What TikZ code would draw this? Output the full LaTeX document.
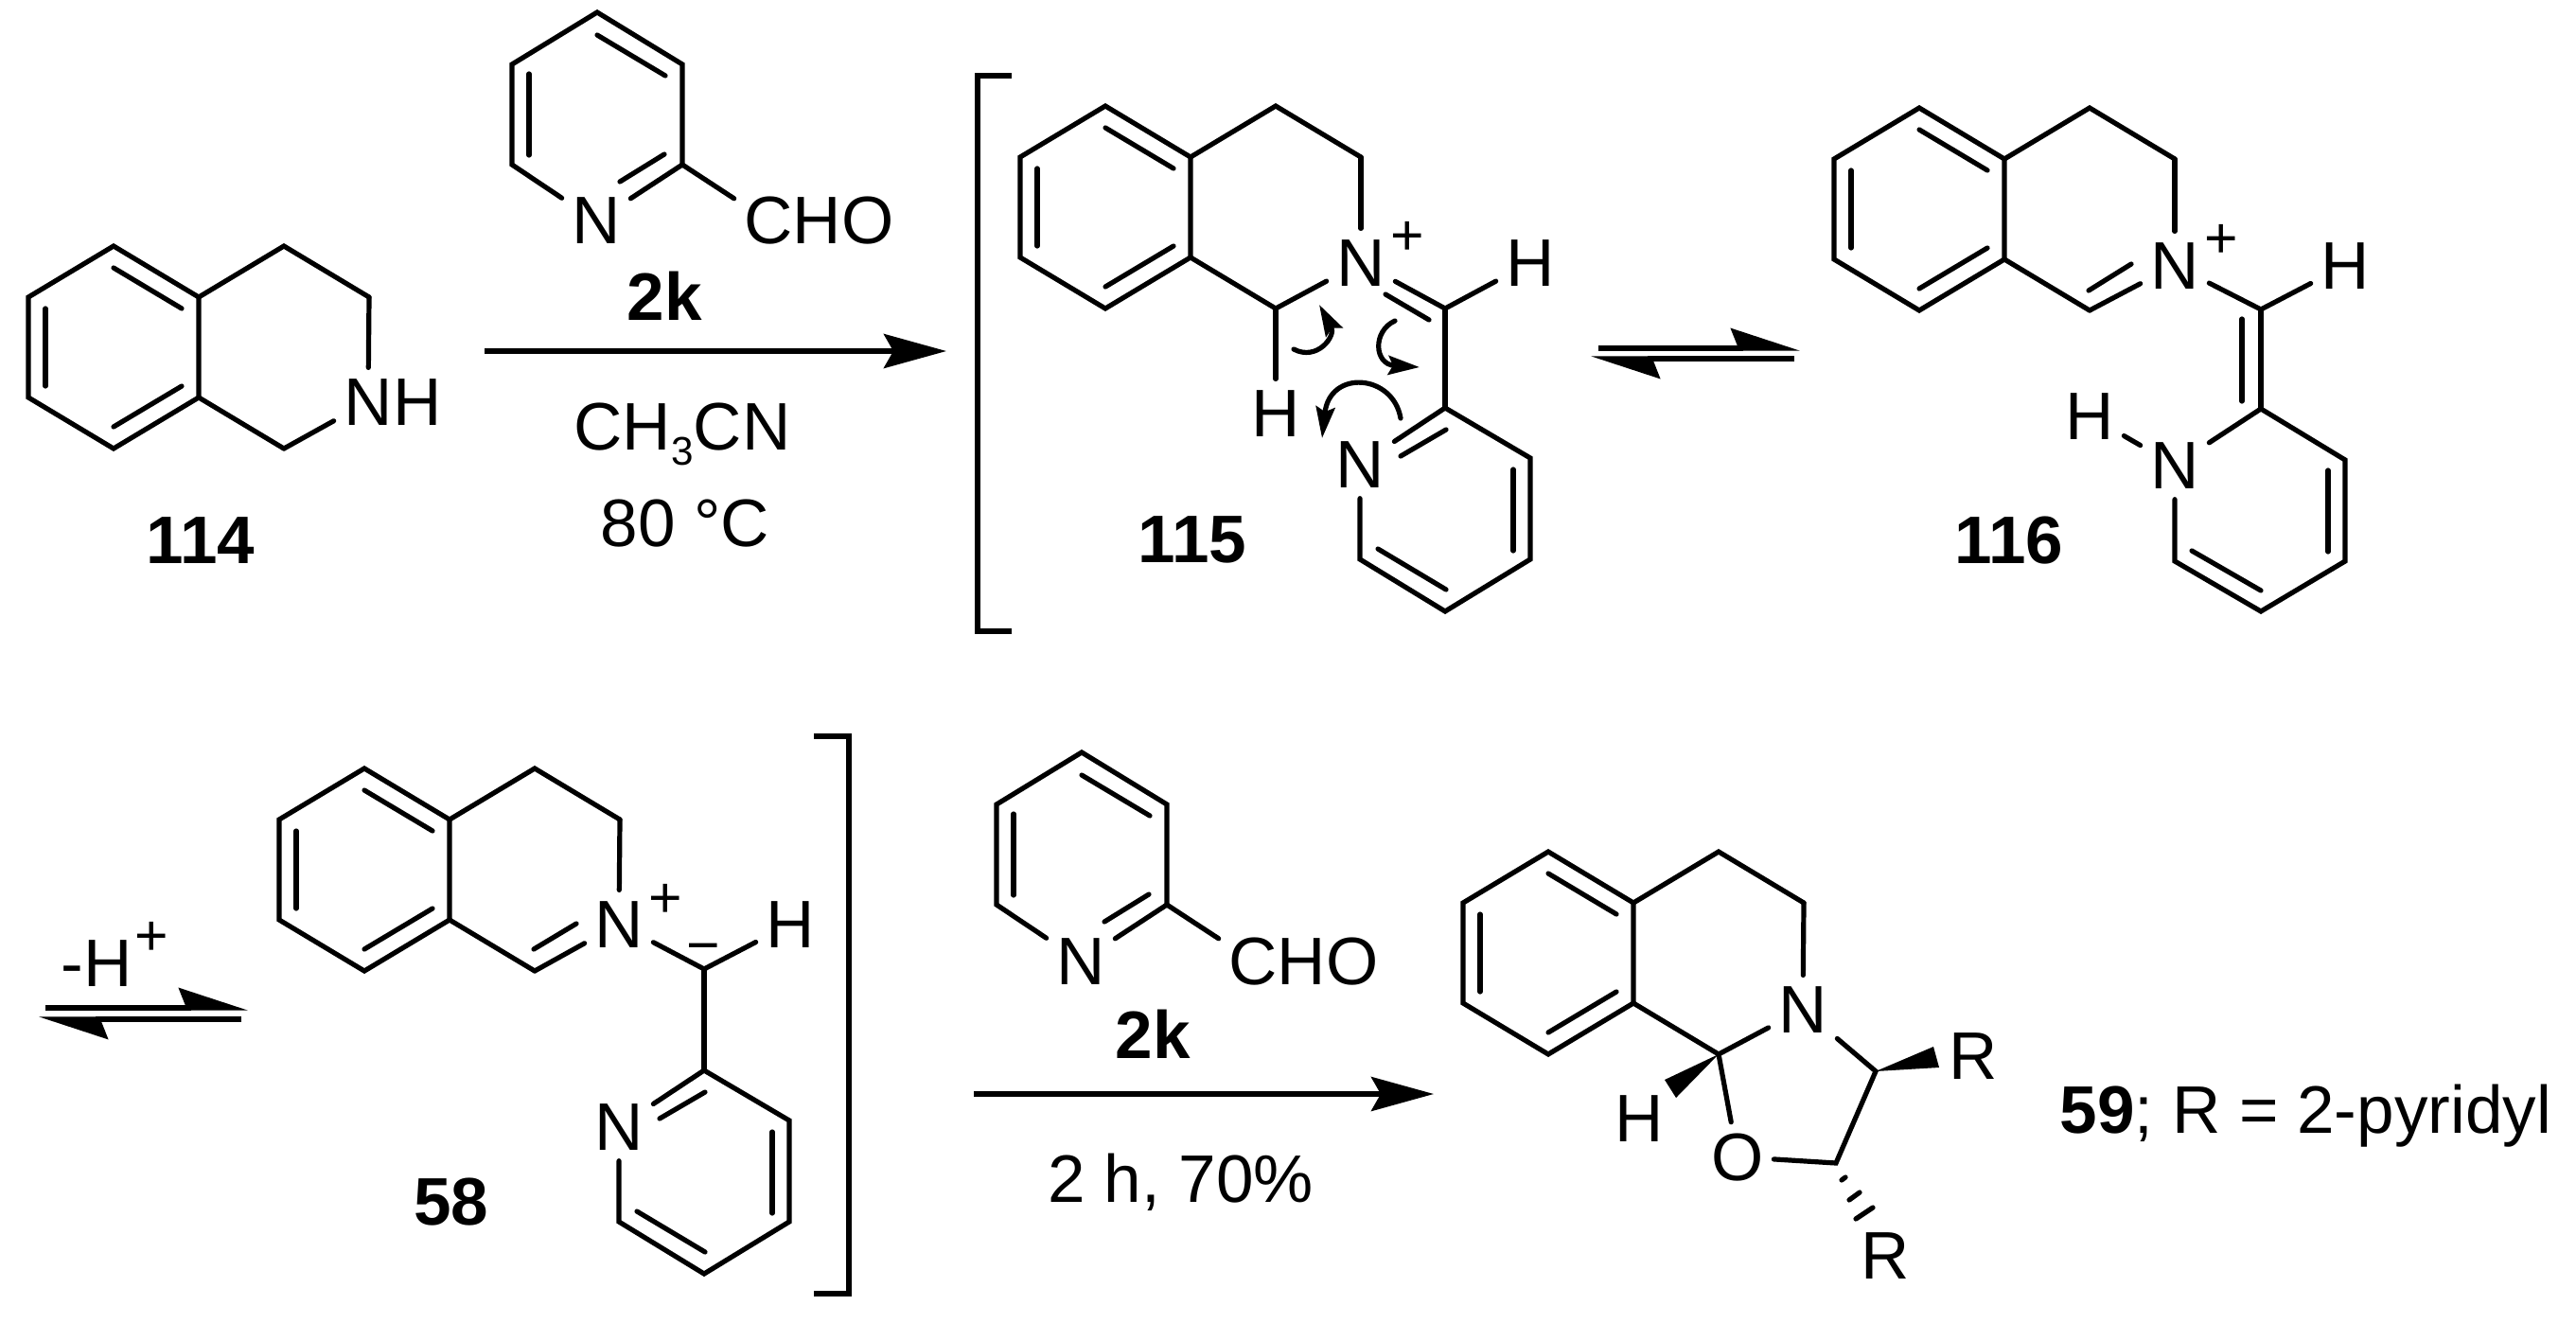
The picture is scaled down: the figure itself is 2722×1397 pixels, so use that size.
\documentclass[tikz,border=0pt]{standalone}
\usepackage{fontspec}
\setmainfont{Liberation Sans}
\usetikzlibrary{arrows.meta}
\newcommand{\lowdigit}[1]{\raisebox{-.16cm}{\fontsize{12}{14}\selectfont #1}}
\tikzset{
  bond/.style={line width=.052cm,line cap=round},
  atom/.style={font=\fontsize{20.2}{24}\selectfont,inner xsep=.1cm,inner ysep=.11cm,anchor=base},
  cmpd/.style={atom,font=\fontsize{20.2}{24}\selectfont\bfseries},
  charge/.style={font=\fontsize{17.3}{20}\selectfont,inner sep=0pt,anchor=base},
  rxn/.style={line width=.056cm,-{Stealth[length=.66cm,width=.36cm,inset=.1cm]}},
  eqm/.style={line width=.052cm,-{Stealth[harpoon,length=.65cm,width=.42cm,inset=.08cm]}},
  curly/.style={bond,-{Stealth[length=.33cm,width=.2cm,inset=.05cm]}},
  bracket/.style={line width=.052cm},
  isoq/.pic={
    \coordinate (-ft) at (0,0);
    \coordinate (-top) at (-90,-54);
    \coordinate (-lu) at (-180,0);
    \coordinate (-ll) at (-180,106);
    \coordinate (-bot) at (-90,160);
    \coordinate (-fb) at (0,106);
    \coordinate (-c4) at (90,-54);
    \coordinate (-c3) at (180,0);
    \coordinate (-c1) at (90,160);
    \draw[bond] (-ft) -- (-top) -- (-lu) -- (-ll) -- (-bot) -- (-fb) -- cycle;
    \draw[bond] (-ft) -- (-c4) -- (-c3);
    \draw[bond] (-fb) -- (-c1);
    \draw[bond] (-90,-31) -- (-18,12);
    \draw[bond] (-162,12) -- (-162,94);
    \draw[bond] (-90,137) -- (-18,94);
  },
  pyrside/.pic={
    \coordinate (-c2) at (0,0);
    \coordinate (-c3) at (90,53);
    \coordinate (-c4) at (90,160);
    \coordinate (-c5) at (0,215);
    \coordinate (-c6) at (-90,160);
    \node[atom] (-n) at (-90,84) {N};
    \draw[bond] (-n) -- (-c2) -- (-c3) -- (-c4) -- (-c5) -- (-c6) -- (-n);
    \draw[bond] (-47,51) -- (1,23);
    \draw[bond] (72,65) -- (72,151);
    \draw[bond] (-71,149) -- (1,192);
  },
  pyrcho/.pic={
    \coordinate (-c2) at (0,0);
    \coordinate (-c3) at (0,-106);
    \coordinate (-c4) at (-90,-161);
    \coordinate (-c5) at (-180,-106);
    \coordinate (-c6) at (-180,0);
    \node[atom] (-n) at (-91,84) {N};
    \node[atom] (-c) at (91,84) {C};
    \node[atom] (-ho) at (170,84) {HO};
    \draw[bond] (-n) -- (-c2) -- (-c3) -- (-c4) -- (-c5) -- (-c6) -- (-n);
    \draw[bond] (-c2) -- (-c);
    \draw[bond] (-66,18) -- (-19,-11);
    \draw[bond] (-90,-137) -- (-18,-94);
    \draw[bond] (-162,-96) -- (-162,-10);
  }
}
\begin{document}
\begin{tikzpicture}[x=.01cm,y=-.01cm]
  \useasboundingbox (0,0) rectangle (2722,1397);

  % 114 and first step
  \pic (thq) at (210,314) {isoq};
  \node[atom] (thq-n) at (389,449) {N};
  \node[atom] (thq-h) at (441,449) {H};
  \draw[bond] (thq-c3) -- (thq-n);
  \draw[bond] (thq-c1) -- (thq-n);
  \node[cmpd] (lab114) at (212,595) {114};

  \pic (ald) at (721,174) {pyrcho};
  \node[cmpd] (labald) at (702,338) {2k};
  \coordinate (rxn1s) at (512,371);
  \coordinate (rxn1e) at (1000,371);
  \draw[rxn] (rxn1s) -- (rxn1e);
  \node[atom] (solv) at (721,475) {CH\lowdigit{3}CN};
  \node[atom] (temp) at (724,577) {80 °C};

  % 115
  \coordinate (bra1) at (1069,80);
  \coordinate (bra2) at (1033,80);
  \coordinate (bra3) at (1033,667);
  \coordinate (bra4) at (1069,667);
  \draw[bracket] (bra1) -- (bra2) -- (bra3) -- (bra4);
  \pic (ium) at (1258,166) {isoq};
  \node[atom] (ium-n) at (1438,302) {N};
  \node[charge] (ium-p) at (1487,269) {+};
  \coordinate (ium-ex) at (1527,326);
  \node[atom] (ium-hx) at (1617,302) {H};
  \node[atom] (ium-ha) at (1348,461) {H};
  \pic (ipy) at (1527,431) {pyrside};
  \draw[bond] (ium-c3) -- (ium-n);
  \draw[bond] (ium-c1) -- (ium-n);
  \draw[bond] (ium-n) -- (ium-ex) -- (ium-hx);
  \draw[bond] (1464,311) -- (1510,338);
  \draw[bond] (ium-ex) -- (ipy-c2);
  \draw[bond] (ium-c1) -- (ium-ha);
  \node[cmpd] (lab115) at (1260,594) {115};

  % electron pushing
  \draw[curly] (1367,369) .. controls (1392,382) and (1412,355) .. (1394,322);
  \draw[curly] (1474,339) .. controls (1450,350) and (1452,385) .. (1500,388);
  \draw[curly] (1480,442) .. controls (1472,395) and (1405,390) .. (1397,463);

  \coordinate (eq1a) at (1689,368);
  \coordinate (eq1b) at (1902,368);
  \coordinate (eq1c) at (1896,379);
  \coordinate (eq1d) at (1681,379);
  \draw[eqm] (eq1a) -- (eq1b);
  \draw[eqm] (eq1c) -- (eq1d);

  % 116
  \pic (tau) at (2118,168) {isoq};
  \node[atom] (tau-n) at (2298,305) {N};
  \node[charge] (tau-p) at (2347,272) {+};
  \coordinate (tau-ex) at (2389,327);
  \node[atom] (tau-hx) at (2478,305) {H};
  \draw[bond] (tau-c3) -- (tau-n);
  \draw[bond] (tau-c1) -- (tau-n);
  \draw[bond] (2207,307) -- (2252,279);
  \draw[bond] (tau-n) -- (tau-ex) -- (tau-hx);
  \coordinate (tpy-c2) at (2389,432);
  \coordinate (tpy-c3) at (2478,486);
  \coordinate (tpy-c4) at (2478,593);
  \coordinate (tpy-c5) at (2389,646);
  \coordinate (tpy-c6) at (2298,593);
  \node[atom] (tpy-n) at (2298,516) {N};
  \node[atom] (tpy-h) at (2208,464) {H};
  \draw[bond] (tau-ex) -- (tpy-c2);
  \draw[bond] (2369,337) -- (2369,424);
  \draw[bond] (tpy-n) -- (tpy-c2) -- (tpy-c3) -- (tpy-c4) -- (tpy-c5) -- (tpy-c6) -- (tpy-n);
  \draw[bond] (2460,497) -- (2460,583);
  \draw[bond] (2316,582) -- (2389,624);
  \draw[bond] (tpy-h) -- (tpy-n);
  \node[cmpd] (lab116) at (2123,595) {116};

  % 58
  \coordinate (eq2a) at (48,1065);
  \coordinate (eq2b) at (262,1065);
  \coordinate (eq2c) at (255,1077);
  \coordinate (eq2d) at (41,1077);
  \draw[eqm] (eq2a) -- (eq2b);
  \draw[eqm] (eq2c) -- (eq2d);
  \node[atom] (dep) at (102,1042) {-H};
  \node[charge] (depp) at (160,1009) {+};

  \pic (yld) at (475,866) {isoq};
  \node[atom] (yld-n) at (654,1001) {N};
  \node[charge] (yld-p) at (703,969) {+};
  \coordinate (yld-ex) at (744,1024);
  \node[charge] (yld-m) at (743,1019) {−};
  \node[atom] (yld-hx) at (835,1001) {H};
  \draw[bond] (yld-c3) -- (yld-n);
  \draw[bond] (yld-c1) -- (yld-n);
  \draw[bond] (564,1003) -- (609,976);
  \draw[bond] (yld-n) -- (yld-ex) -- (yld-hx);
  \pic (ypy) at (744,1131) {pyrside};
  \draw[bond] (yld-ex) -- (ypy-c2);
  \node[cmpd] (lab58) at (477,1294) {58};
  \coordinate (bra5) at (860,778);
  \coordinate (bra6) at (897,778);
  \coordinate (bra7) at (897,1367);
  \coordinate (bra8) at (860,1367);
  \draw[bracket] (bra5) -- (bra6) -- (bra7) -- (bra8);

  % second step
  \pic (ald2) at (1233,956) {pyrcho};
  \node[cmpd] (labald2) at (1218,1118) {2k};
  \coordinate (rxn2s) at (1029,1156);
  \coordinate (rxn2e) at (1515,1156);
  \draw[rxn] (rxn2s) -- (rxn2e);
  \node[atom] (cond) at (1248,1270) {2 h, 70\%};

  % 59
  \pic (oxa) at (1726,954) {isoq};
  \node[atom] (oxa-n) at (1905,1091) {N};
  \coordinate (oxa-cr) at (1982,1132);
  \coordinate (oxa-co) at (1940,1229);
  \node[atom] (oxa-o) at (1836,1247) {O};
  \node[atom] (oxa-h) at (1732,1206) {H};
  \node[atom] (oxa-ru) at (2085,1140) {R};
  \node[atom] (oxa-rd) at (1992,1351) {R};
  \draw[bond] (oxa-c3) -- (oxa-n);
  \draw[bond] (oxa-c1) -- (oxa-n);
  \draw[bond] (oxa-n) -- (oxa-cr) -- (oxa-co) -- (oxa-o) -- (oxa-c1);
  \fill (oxa-c1) -- (1759,1141) -- (1771,1160) -- cycle;
  \fill (oxa-cr) -- (2043,1106) -- (2049,1128) -- cycle;
  \draw[bond] (1946,1247) -- (1950,1244);
  \draw[bond] (1954,1268) -- (1965,1260);
  \draw[bond] (1961,1288) -- (1979,1276);
  \node[atom,anchor=base west,inner xsep=0pt] (lab59) at (2176,1197) {\textbf{59}; R = 2-pyridyl};
\end{tikzpicture}
\end{document}
